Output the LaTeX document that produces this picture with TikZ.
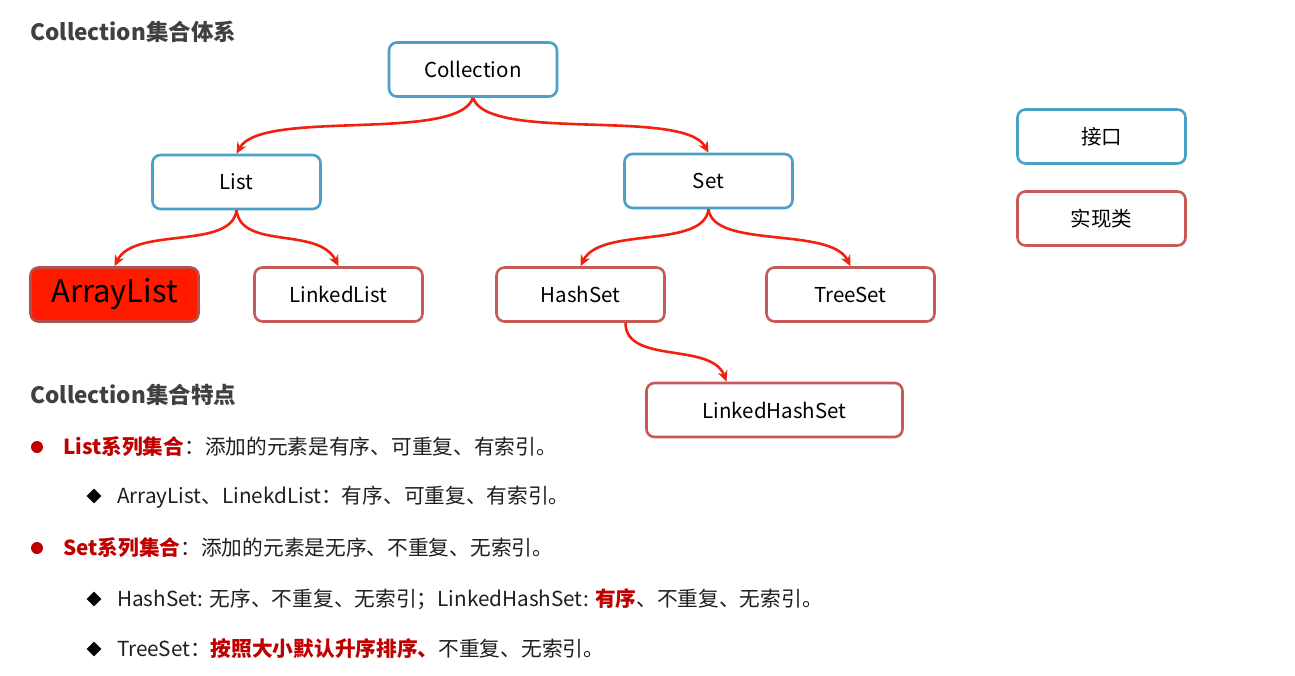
\documentclass[tikz,border=0pt]{standalone}
\usepackage{fontspec}
\setmainfont{Noto Sans CJK SC}
\usetikzlibrary{arrows.meta,shapes.geometric}

\definecolor{ifaceblue}{HTML}{4BA0C5}
\definecolor{implred}{HTML}{C65A55}
\definecolor{arrowred}{HTML}{F2200F}
\definecolor{keyred}{HTML}{C00000}
\definecolor{titlegray}{HTML}{404040}
\definecolor{hotred}{HTML}{FF1A00}

\tikzset{
  box/.style={rounded corners=8pt, line width=2.6pt, minimum width=168pt,
    minimum height=54pt, fill=white, font=\fontsize{20.5}{24}\selectfont},
  iface/.style={box, draw=ifaceblue},
  impl/.style={box, draw=implred},
  link/.style={arrowred, line width=2.6pt, -{Stealth[length=11pt,width=10pt]}},
  heading/.style={anchor=base west, inner sep=0pt, text=titlegray,
    font=\fontsize{22.5}{26}\selectfont\bfseries},
  itemtext/.style={anchor=base west, inner sep=0pt, text=black!88,
    font=\fontsize{20.7}{24}\selectfont},
  dot/.style={circle, fill=keyred, inner sep=0pt, minimum size=12pt},
  gem/.style={diamond, fill=black, inner sep=0pt, minimum size=15pt}
}
\newcommand{\hl}[1]{\textcolor{keyred}{\bfseries #1}}

\begin{document}
\begin{tikzpicture}[x=1pt,y=-1pt]
  \fill[white] (0,0) rectangle (1295,676);

  % hierarchy
  \node[heading] (title) at (30,41) {Collection集合体系};
  \node[iface] (coll) at (473,69.5) {Collection};
  \node[iface] (list) at (236.5,182) {List};
  \node[iface] (set) at (708.5,181) {Set};
  \node[impl, fill=hotred, draw=implred!90!black,
    font=\fontsize{31}{34}\selectfont] (alist) at (114.5,294.5) {ArrayList};
  \node[impl] (llist) at (338.5,294.5) {LinkedList};
  \node[impl] (hset) at (580.5,294.5) {HashSet};
  \node[impl] (tset) at (850.5,294.5) {TreeSet};
  \node[impl, minimum width=256pt] (lhset) at (774.5,410) {LinkedHashSet};

  \draw[link] (coll.south) .. controls +(-15,45) and +(25,-45) .. (list.north);
  \draw[link] (coll.south) .. controls +(15,45) and +(-25,-45) .. (set.north);
  \draw[link] (list.south) .. controls +(-5,40) and +(20,-40) .. (alist.north);
  \draw[link] (list.south) .. controls +(5,40) and +(-20,-40) .. (llist.north);
  \draw[link] (set.south) .. controls +(-5,40) and +(20,-40) .. (hset.north);
  \draw[link] (set.south) .. controls +(5,40) and +(-20,-40) .. (tset.north);
  \draw[link] ([xshift=45pt]hset.south) .. controls +(0,42) and +(-15,-40)
    .. ([xshift=-48pt]lhset.north);

  % legend
  \node[iface] (kiface) at (1101.5,136.5) {接口};
  \node[impl] (kimpl) at (1101.5,218.5) {实现类};

  % features
  \node[heading] (feat) at (30,403) {Collection集合特点};
  \node[dot] (d1) at (37,447) {};
  \node[itemtext] (t1) at (63,454) {\hl{List系列集合}：添加的元素是有序、可重复、有索引。};
  \node[gem] (g1) at (94,496) {};
  \node[itemtext] (t2) at (117,503) {ArrayList、LinekdList：有序、可重复、有索引。};
  \node[dot] (d2) at (37,548) {};
  \node[itemtext] (t3) at (63,555) {\hl{Set系列集合}：添加的元素是无序、不重复、无索引。};
  \node[gem] (g2) at (94,599) {};
  \node[itemtext] (t4) at (117,606) {HashSet: 无序、不重复、无索引；LinkedHashSet: \hl{有序}、不重复、无索引。};
  \node[gem] (g3) at (94,649) {};
  \node[itemtext] (t5) at (117,656) {TreeSet：\hl{按照大小默认升序排序、}不重复、无索引。};
\end{tikzpicture}
\end{document}
